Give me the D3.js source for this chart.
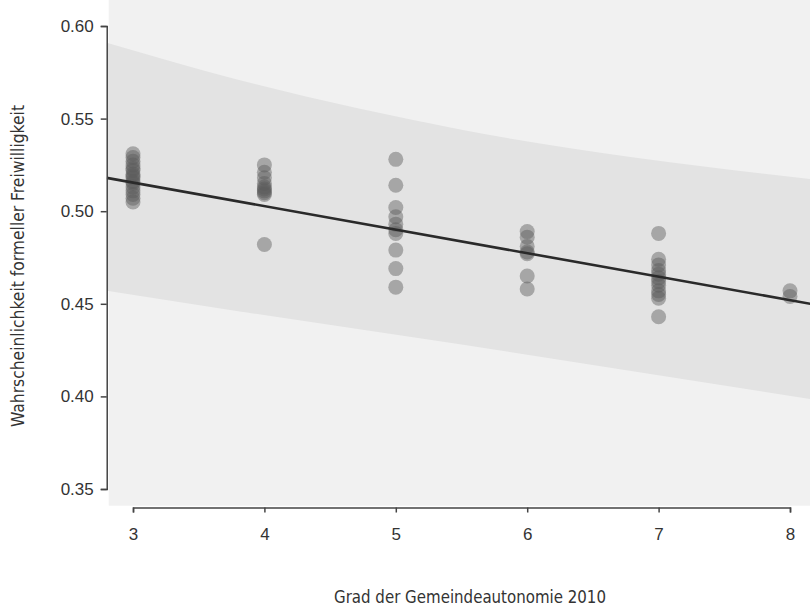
<!DOCTYPE html>
<html><head><meta charset="utf-8">
<script src="https://cdn.jsdelivr.net/npm/d3@7"></script>
<style>
html,body{margin:0;padding:0;background:#fff;}
text{font-family:"Liberation Sans Narrow","DejaVu Sans Condensed","Liberation Sans",sans-serif;fill:#333;}
</style></head>
<body>
<svg id="chart" width="810" height="609"></svg>
<script>
// ---- data ----
const xTicks = [3, 4, 5, 6, 7, 8];
const yTicks = [0.35, 0.40, 0.45, 0.50, 0.55, 0.60];
const xTitle = "Grad der Gemeindeautonomie 2010";
const yTitle = "Wahrscheinlichkeit formeller Freiwilligkeit";

const pts3 = [0.531, 0.529, 0.527, 0.525, 0.523, 0.522, 0.520, 0.519, 0.518, 0.516, 0.515, 0.513, 0.511, 0.509, 0.507, 0.505];
const pts4 = [0.525, 0.521, 0.518, 0.515, 0.513, 0.512, 0.511, 0.510, 0.509, 0.482];
const pts5 = [0.528, 0.514, 0.502, 0.497, 0.493, 0.490, 0.488, 0.479, 0.469, 0.459];
const pts6 = [0.489, 0.486, 0.481, 0.478, 0.477, 0.465, 0.458];
const pts7 = [0.488, 0.474, 0.471, 0.468, 0.466, 0.464, 0.462, 0.460, 0.457, 0.455, 0.453, 0.443];
const pts8 = [0.457, 0.454];

const fitX = [2.8, 8.2];
const fitY = [0.5180, 0.4494];
const bandX = [2.8, 3.8, 5.5, 8.2];
const bandUpper = [0.591, 0.571, 0.544, 0.517];
const bandLower = [0.457, 0.446, 0.428, 0.398];

// ---- build ----
const groups = [[3, pts3], [4, pts4], [5, pts5], [6, pts6], [7, pts7], [8, pts8]];
const points = groups.flatMap(([x, vs]) => vs.map(v => ({x, v})));

const svg = d3.select("#chart");
const x = d3.scaleLinear().domain([3, 8]).range([133, 790]);
const y = d3.scaleLinear().domain([0.35, 0.60]).range([489, 26]);

// plot background (scan tone)
svg.append("rect").attr("x", x(2.8) + 2).attr("y", 0)
  .attr("width", 810 - x(2.8)).attr("height", y(0.341))
  .attr("fill", "#f1f1f1");

svg.append("clipPath").attr("id", "clip").append("rect")
  .attr("x", x(2.8)).attr("y", y(0.61)).attr("width", x(8.2) - x(2.8)).attr("height", y(0.34) - y(0.61));

const plot = svg.append("g").attr("clip-path", "url(#clip)");

const bandData = bandX.map((d, i) => ({x: d, lo: bandLower[i], hi: bandUpper[i]}));
plot.append("path").datum(bandData)
  .attr("fill", "#e3e3e3")
  .attr("d", d3.area().curve(d3.curveMonotoneX)
    .x(d => x(d.x)).y0(d => y(d.lo)).y1(d => y(d.hi)));

plot.selectAll("circle").data(points).join("circle")
  .attr("cx", d => x(d.x)).attr("cy", d => y(d.v)).attr("r", 7.5)
  .attr("fill", "#5a5a5a").attr("fill-opacity", 0.45);

plot.append("path").datum(fitX.map((d, i) => [d, fitY[i]]))
  .attr("fill", "none").attr("stroke", "#2a2a2a").attr("stroke-width", 2.6)
  .attr("d", d3.line().x(d => x(d[0])).y(d => y(d[1])));

// axes
const yAxis = svg.append("g").attr("transform", `translate(${x(2.8)},0)`)
  .call(d3.axisLeft(y).tickValues(yTicks).tickFormat(d3.format(".2f")).tickSizeOuter(0).tickSize(6).tickPadding(7));
const xAxis = svg.append("g").attr("transform", `translate(0,${y(0.34)})`)
  .call(d3.axisBottom(x).tickValues(xTicks).tickFormat(d3.format("d")).tickSizeOuter(0).tickSize(5).tickPadding(15));
[yAxis, xAxis].forEach(g => {
  g.select(".domain").attr("stroke", "#444").attr("stroke-width", 1.5);
  g.selectAll(".tick line").attr("stroke", "#444").attr("stroke-width", 1.5);
  g.selectAll(".tick text").attr("fill", "#333").style("font-family", '"Liberation Sans",sans-serif').attr("font-size", 17);
});

svg.append("text").attr("x", 470).attr("y", 603).attr("text-anchor", "middle")
  .attr("font-size", 18).attr("textLength", 272).attr("lengthAdjust", "spacingAndGlyphs").text(xTitle);
svg.append("text").attr("transform", "translate(24,266) rotate(-90)").attr("text-anchor", "middle")
  .attr("font-size", 18).attr("textLength", 322).attr("lengthAdjust", "spacingAndGlyphs").text(yTitle);
</script>
</body></html>
